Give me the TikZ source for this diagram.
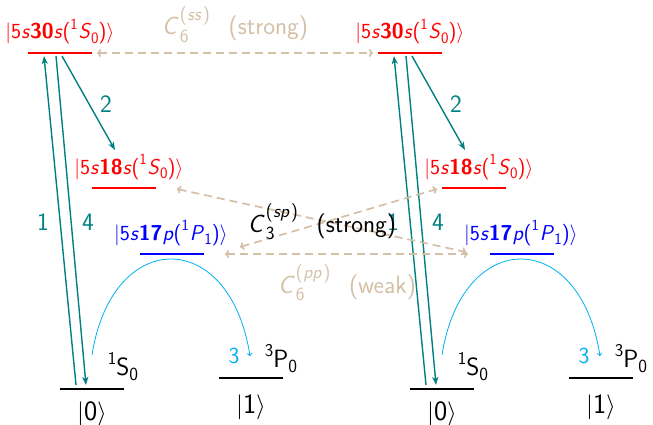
\documentclass[tikz,border=0pt]{standalone}
\usepackage{graphicx}
\usetikzlibrary{arrows.meta}
\definecolor{tanc}{RGB}{212,192,167}
\definecolor{cyanc}{RGB}{0,176,240}
\definecolor{tealc}{RGB}{0,128,128}
\newcommand\sps[1]{\raisebox{0.42em}{\scalebox{0.72}{#1}}}
\newcommand\sbs[1]{\raisebox{-0.22em}{\scalebox{0.74}{#1}}}
\newcommand\ket[1]{$|$#1$\rangle$}
\newcommand\stlab[4]{$|$5\textit{s}\textbf{#1}\textit{#2}(\sps{1}\kern1pt\textit{#3}\sbs{#4})$\rangle$}
\newcommand\Cc[2]{\textit{C}\kern1pt\rlap{\raisebox{-0.3em}{\scalebox{0.74}{#1}}}\raisebox{0.58em}{\scalebox{0.74}{(\kern1pt\textit{#2}\kern2pt)}}}
\newcommand\drawgroup[2]{%
\begin{scope}[xshift=#2pt, name prefix=#1-]
\draw[lev, red] (28,53) coordinate (s30a) -- (92,53) coordinate (s30b);
\draw[lev, red] (92,188) coordinate (s18a) -- (156,188) coordinate (s18b);
\draw[lev, blue] (140,254) coordinate (p17a) -- (204,254) coordinate (p17b);
\draw[lev] (60,389) coordinate (g0a) -- (124,389) coordinate (g0b);
\draw[lev] (219,378) coordinate (g1a) -- (283,378) coordinate (g1b);
\node[stl, red] (t30) at (60,39) {\stlab{30}{s}{S}{0}};
\node[stl, red] (t18) at (129,174) {\stlab{18}{s}{S}{0}};
\node[stl, blue] (t17) at (171,240) {\stlab{17}{p}{P}{1}};
\node[gl] (k0) at (92,420) {\ket{0}};
\node[gl] (k1) at (251,413) {\ket{1}};
\node[term] (S0) at (123,375) {\sps{1}S\sbs{0}};
\node[term] (P0) at (281,367) {\sps{3}P\sbs{0}};
\coordinate (a1s) at (76,385); \coordinate (a1e) at (44,56);
\coordinate (a4s) at (56,56); \coordinate (a4e) at (86,385);
\coordinate (a2s) at (62,56); \coordinate (a2e) at (115,150);
\draw[exc] (a1s) -- (a1e);
\draw[exc] (a4s) -- (a4e);
\draw[exc] (a2s) -- (a2e);
\node[num] (n1) at (43,230) {1};
\node[num] (n4) at (88,230) {4};
\node[num] (n2) at (106,113) {2};
\coordinate (hs) at (92,355); \coordinate (he) at (250,356);
\draw[hop] (hs) .. controls (112,227) and (230,227) .. (he);
\node[hopnum] (n3) at (234,363) {3};
\end{scope}}
\begin{document}
\begin{tikzpicture}[x=1pt,y=-1pt,
  lev/.style={line width=1.8pt},
  stl/.style={anchor=base, inner sep=0pt, font=\sffamily\fontsize{21.5}{26}\selectfont},
  num/.style={tealc, anchor=base, inner sep=0pt, font=\sffamily\fontsize{25}{30}\selectfont},
  hopnum/.style={cyanc, anchor=base, inner sep=0pt, font=\sffamily\fontsize{23}{28}\selectfont},
  gl/.style={anchor=base, inner sep=0pt, font=\sffamily\fontsize{28}{33}\selectfont},
  term/.style={anchor=base, inner sep=0pt, font=\sffamily\fontsize{25}{30}\selectfont},
  cpl/.style={anchor=base, inner sep=0pt, font=\sffamily\fontsize{25}{30}\selectfont},
  exc/.style={tealc, line width=1.4pt, -{Stealth[length=8pt,width=6pt,inset=2pt]}},
  cpa/.style={tanc, line width=1.7pt, dash pattern=on 8pt off 5pt, {To[length=4pt,width=8pt]}-{To[length=4pt,width=8pt]}},
  hop/.style={cyanc, line width=0.8pt, -{To[length=3pt,width=5pt]}}]
\useasboundingbox (0,0) rectangle (653,425);
\drawgroup{L}{0}
\drawgroup{R}{350}
\coordinate (ssL) at (97,53); \coordinate (ssR) at (373,53);
\coordinate (ppL) at (225,254); \coordinate (ppR) at (468,254);
\coordinate (spAL) at (177,189); \coordinate (spAR) at (466,252);
\coordinate (spBL) at (240,247); \coordinate (spBR) at (437,189);
\draw[cpa] (ssL) -- (ssR);
\draw[cpa] (ppL) -- (ppR);
\draw[cpa] (spAL) -- (spAR);
\draw[cpa] (spBL) -- (spBR);
\node[cpl, tanc] (css) at (235,35) {\Cc{6}{ss}\hspace{0.75em}(strong)};
\node[cpl] (csp) at (322,232) {\Cc{3}{sp}\hspace{0.75em}(strong)};
\node[cpl, tanc] (cpp) at (347,293) {\Cc{6}{pp}\hspace{0.75em}(weak)};
\end{tikzpicture}
\end{document}
